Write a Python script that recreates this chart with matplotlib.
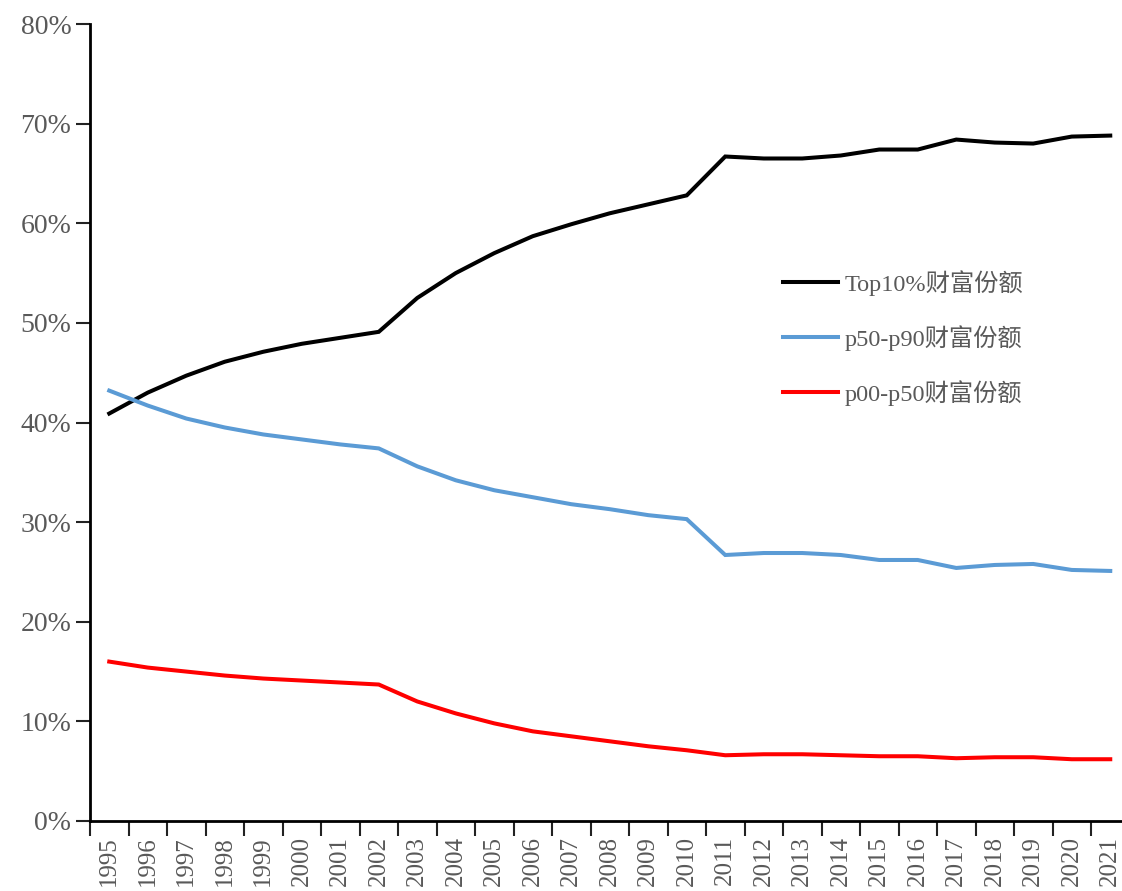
import matplotlib
matplotlib.use("Agg")
import matplotlib.pyplot as plt
from matplotlib.ticker import FixedLocator, PercentFormatter

plt.rcParams['font.family'] = ['Liberation Serif', 'Noto Sans CJK SC']

years = [str(y) for y in range(1995, 2022)]

top10 = [40.9, 43.0, 44.7, 46.1, 47.1, 47.9, 48.5, 49.1, 52.5, 55.0,
         57.0, 58.7, 59.9, 61.0, 61.9, 62.8, 66.7, 66.5, 66.5, 66.8,
         67.4, 67.4, 68.4, 68.1, 68.0, 68.7, 68.8]
p50_p90 = [43.2, 41.7, 40.4, 39.5, 38.8, 38.3, 37.8, 37.4, 35.6, 34.2,
           33.2, 32.5, 31.8, 31.3, 30.7, 30.3, 26.7, 26.9, 26.9, 26.7,
           26.2, 26.2, 25.4, 25.7, 25.8, 25.2, 25.1]
p00_p50 = [16.0, 15.4, 15.0, 14.6, 14.3, 14.1, 13.9, 13.7, 12.0, 10.8,
           9.8, 9.0, 8.5, 8.0, 7.5, 7.1, 6.6, 6.7, 6.7, 6.6,
           6.5, 6.5, 6.3, 6.4, 6.4, 6.2, 6.2]

labels = ['Top10%财富份额', 'p50-p90财富份额', 'p00-p50财富份额']
colors = ['#000000', '#5B9BD5', '#FF0000']
gray = '#595959'

W, H = 1122, 891
fig = plt.figure(figsize=(W / 100, H / 100), dpi=100)
ax = fig.add_axes([90 / W, 1 - 821 / H, (1129.5 - 90) / W, (821 - 24) / H])

x = list(range(len(years)))
for series, lab, col in zip([top10, p50_p90, p00_p50], labels, colors):
    ax.plot(x, series, color=col, lw=2.9, label=lab, solid_joinstyle='miter')

ax.set_xlim(-0.5, len(years) - 0.5)
ax.set_ylim(0, 80)
ax.set_yticks(range(0, 81, 10))
ax.yaxis.set_major_formatter(PercentFormatter(decimals=0))

# boundary ticks, labels centred on categories
ax.xaxis.set_major_locator(FixedLocator([i - 0.5 for i in range(len(years) + 1)]))
ax.xaxis.set_minor_locator(FixedLocator(x))
ax.set_xticklabels([])
ax.set_xticklabels(years, minor=True, rotation=90)
ax.tick_params(axis='x', which='major', length=11, width=1.5, color='#222222')
ax.tick_params(axis='x', which='minor', length=0, pad=11, labelsize=18, labelcolor=gray)
ax.tick_params(axis='y', length=10, width=1.5, color='#222222', pad=3.5,
               labelsize=20, labelcolor=gray)

for side in ['top', 'right']:
    ax.spines[side].set_visible(False)
for side in ['left', 'bottom']:
    ax.spines[side].set_linewidth(2)
    ax.spines[side].set_color('black')

fig.legend(loc='upper left', bbox_to_anchor=(783 / W, 1 - 270 / H),
           frameon=False, fontsize=17.5, handlelength=2.26, handletextpad=0.29,
           labelspacing=1.2, borderpad=0, borderaxespad=0, labelcolor=gray)

fig.savefig('out.png', dpi=100)
